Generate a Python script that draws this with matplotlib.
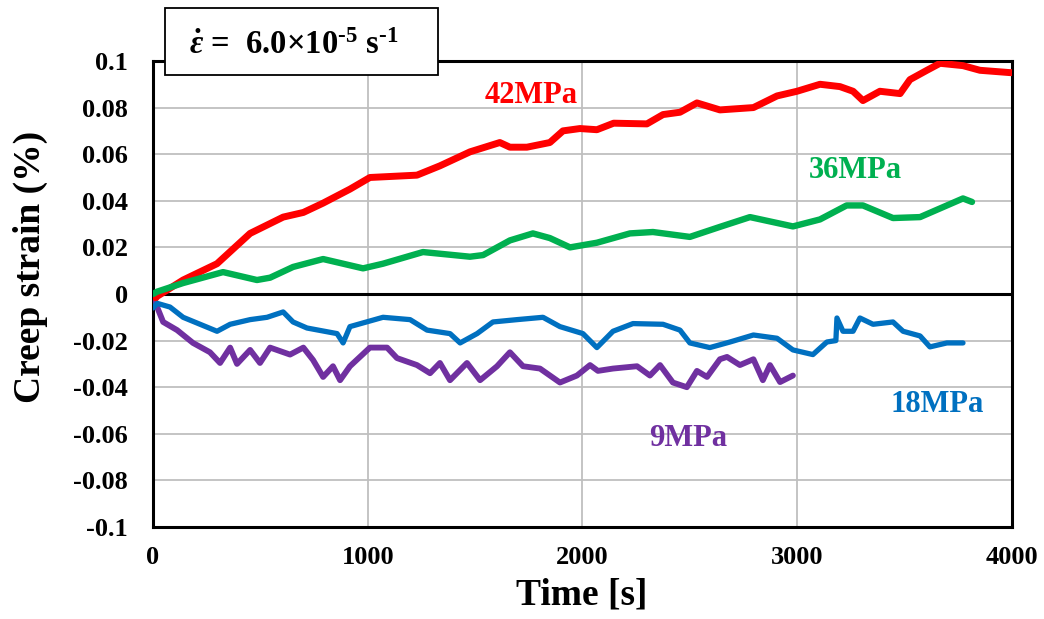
import matplotlib
matplotlib.use('Agg')
import matplotlib.pyplot as plt
from matplotlib.patches import Rectangle

plt.rcParams['font.family'] = ['Liberation Serif', 'DejaVu Serif']
plt.rcParams['font.weight'] = 'bold'
plt.rcParams['mathtext.fontset'] = 'custom'
plt.rcParams['mathtext.rm'] = 'Liberation Serif:bold'
plt.rcParams['mathtext.it'] = 'Liberation Serif:italic:bold'
plt.rcParams['mathtext.bf'] = 'Liberation Serif:bold'

# 42MPa
t_42 = [0, 19, 140, 298, 452, 606, 700, 792, 917, 1010, 1229, 1336, 1476, 1615, 1662,
        1741, 1848, 1909, 1988, 2067, 2145, 2300, 2375, 2454, 2533, 2640, 2796, 2906,
        2999, 3106, 3199, 3260, 3306, 3385, 3479, 3525, 3604, 3665, 3772, 3851, 3991, 4000]
s_42 = [-0.003, -0.001, 0.006, 0.013, 0.026, 0.033, 0.035, 0.039, 0.045, 0.050, 0.051,
        0.055, 0.061, 0.065, 0.063, 0.063, 0.065, 0.070, 0.071, 0.0705, 0.0733, 0.073,
        0.077, 0.078, 0.082, 0.079, 0.080, 0.085, 0.087, 0.090, 0.089, 0.087, 0.083,
        0.087, 0.086, 0.092, 0.096, 0.099, 0.098, 0.096, 0.095, 0.095]

# 36MPa
t_36 = [0, 19, 140, 326, 484, 545, 652, 792, 978, 1071, 1257, 1476, 1537, 1662, 1769,
        1848, 1942, 2067, 2221, 2328, 2500, 2640, 2780, 2980, 3106, 3230, 3306, 3446,
        3572, 3697, 3772, 3814]
s_36 = [0.0, 0.001, 0.0047, 0.0094, 0.006, 0.007, 0.0116, 0.015, 0.011, 0.013, 0.018,
        0.016, 0.0167, 0.023, 0.026, 0.024, 0.020, 0.022, 0.026, 0.0266, 0.0245, 0.0288,
        0.033, 0.029, 0.032, 0.038, 0.038, 0.0326, 0.033, 0.038, 0.041, 0.0395]

# 18MPa
t_18 = [0, 19, 79, 140, 219, 298, 359, 452, 531, 606, 652, 717, 857, 885, 917, 1071,
        1197, 1276, 1383, 1430, 1509, 1583, 1695, 1816, 1895, 2002, 2067, 2142, 2235,
        2375, 2454, 2500, 2593, 2687, 2796, 2906, 2980, 3073, 3138, 3180, 3185, 3213,
        3260, 3292, 3353, 3446, 3493, 3572, 3618, 3697, 3772]
s_18 = [-0.006, -0.004, -0.0056, -0.010, -0.013, -0.016, -0.013, -0.011, -0.010, -0.0077,
        -0.012, -0.0146, -0.017, -0.021, -0.014, -0.010, -0.011, -0.0155, -0.017, -0.021,
        -0.017, -0.012, -0.011, -0.010, -0.014, -0.017, -0.023, -0.016, -0.0127, -0.013,
        -0.0155, -0.021, -0.023, -0.0206, -0.0176, -0.019, -0.024, -0.026, -0.0206,
        -0.020, -0.0103, -0.016, -0.016, -0.0103, -0.013, -0.012, -0.016, -0.018,
        -0.0227, -0.021, -0.021]

# 9MPa
t_9 = [0, 19, 47, 112, 186, 265, 312, 359, 391, 452, 498, 545, 638, 700, 745, 792, 838,
       871, 917, 1010, 1090, 1136, 1229, 1290, 1336, 1383, 1462, 1523, 1602, 1662, 1723,
       1802, 1895, 1974, 2035, 2072, 2142, 2254, 2314, 2361, 2421, 2486, 2533, 2580,
       2640, 2673, 2733, 2796, 2840, 2873, 2920, 2980]
s_9 = [-0.004, -0.0056, -0.012, -0.0155, -0.021, -0.025, -0.0296, -0.023, -0.030, -0.024,
       -0.0296, -0.023, -0.026, -0.023, -0.0283, -0.0356, -0.031, -0.037, -0.031, -0.023,
       -0.023, -0.0275, -0.0305, -0.034, -0.0296, -0.037, -0.0296, -0.037, -0.031,
       -0.025, -0.031, -0.032, -0.038, -0.035, -0.0305, -0.033, -0.032, -0.031, -0.035,
       -0.0305, -0.038, -0.040, -0.033, -0.0356, -0.028, -0.027, -0.0305, -0.028,
       -0.037, -0.0305, -0.0378, -0.035]

x_ticks = [0, 1000, 2000, 3000, 4000]
y_ticks = [-0.1, -0.08, -0.06, -0.04, -0.02, 0, 0.02, 0.04, 0.06, 0.08, 0.1]
y_labels = ['-0.1', '-0.08', '-0.06', '-0.04', '-0.02', '0', '0.02', '0.04', '0.06', '0.08', '0.1']

fig = plt.figure(figsize=(10.44, 6.19), dpi=100)
ax = fig.add_axes([0.1466, 0.1486, 0.8227, 0.7529])

ax.axhline(0, color='black', linewidth=2.2, zorder=1.5)
ax.plot(t_42, s_42, color='#FF0000', linewidth=5.0, solid_capstyle='round',
        solid_joinstyle='round', zorder=3)
ax.plot(t_36, s_36, color='#00B050', linewidth=4.6, solid_capstyle='round',
        solid_joinstyle='round', zorder=3)
ax.plot(t_9, s_9, color='#7030A0', linewidth=4.2, solid_capstyle='round',
        solid_joinstyle='round', zorder=3)
ax.plot(t_18, s_18, color='#0070C0', linewidth=3.8, solid_capstyle='round',
        solid_joinstyle='round', zorder=3)

ax.text(1760, 0.085, '42MPa', color='#FF0000', fontsize=22, ha='center', va='center')
ax.text(3269, 0.0532, '36MPa', color='#00B050', fontsize=22, ha='center', va='center')
ax.text(3651, -0.0476, '18MPa', color='#0070C0', fontsize=22, ha='center', va='center')
ax.text(2491, -0.0618, '9MPa', color='#7030A0', fontsize=22, ha='center', va='center')

ax.set_xlim(0, 4000)
ax.set_ylim(-0.1, 0.1)
ax.set_xticks(x_ticks)
ax.set_yticks(y_ticks)
ax.set_yticklabels(y_labels)
ax.tick_params(axis='both', length=0, labelsize=19)
ax.tick_params(axis='x', pad=14)
ax.tick_params(axis='y', pad=18)
ax.grid(True, color='#BFBFBF', linewidth=1.3)
ax.set_axisbelow(True)
for sp in ax.spines.values():
    sp.set_linewidth(2.2)
    sp.set_color('black')

fig.text(30 / 1044, 1 - 267 / 619, 'Creep strain (%)', rotation=90, fontsize=27,
         ha='center', va='center')
fig.text(582 / 1044, 1 - 595 / 619, 'Time [s]', fontsize=27, ha='center', va='center')

# strain rate box
fig.patches.append(Rectangle((165 / 1044, 1 - 75 / 619), 273 / 1044, 67 / 619,
                             transform=fig.transFigure, facecolor='white',
                             edgecolor='black', linewidth=1.3, zorder=5))
fig.text(294 / 1044, 1 - 46 / 619,
         r'$\dot{\varepsilon}$ =  6.0' + '\u00d7' + r'10$^{\text{-5}}$ s$^{\text{-1}}$',
         fontsize=23.5, ha='center', va='center', zorder=6)

fig.savefig('out.png', dpi=100)
